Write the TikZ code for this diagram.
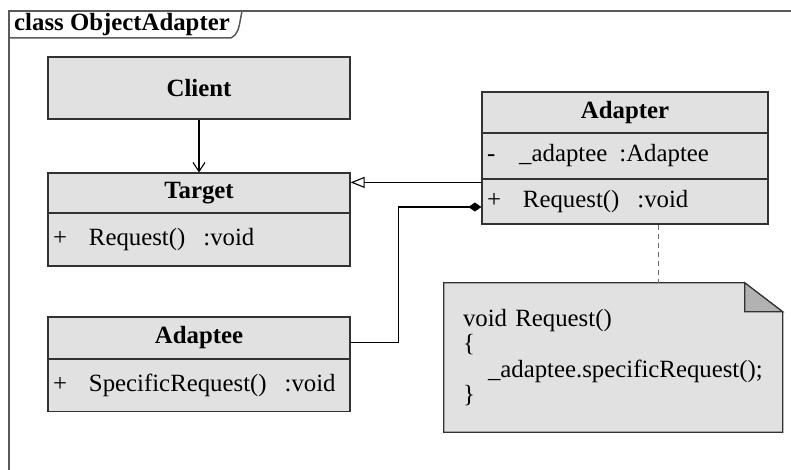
\documentclass[tikz,border=0pt]{standalone}
\usepackage{fontspec}
\setmainfont{Liberation Serif}
\usetikzlibrary{arrows.meta,backgrounds}
\definecolor{boxfill}{RGB}{225,225,225}
\definecolor{boxline}{RGB}{50,50,50}
\definecolor{foldfill}{RGB}{178,178,178}
\definecolor{framecol}{RGB}{90,90,90}
\definecolor{dashcol}{RGB}{110,110,110}
\begin{document}
\begin{tikzpicture}[x=1pt,y=-1pt,
  every node/.style={font=\fontsize{24.8}{24.6}\selectfont, inner sep=0pt},
  box/.style={draw=boxline, fill=boxfill, line width=1.2pt, rectangle},
  head/.style={box, font=\fontsize{24.8}{24.6}\selectfont\bfseries},
  comp/.style={box, inner xsep=5pt, align=left},
  frameline/.style={draw=framecol, line width=1.5pt},
  conn/.style={draw=black, line width=1.1pt},
  dep/.style={conn, -{Straight Barb[length=9pt,width=12pt,line width=1.1pt]}},
  gen/.style={conn, -{Triangle[open,length=14pt,width=11pt,line width=1.1pt,fill=white]}},
  compo/.style={conn, {Diamond[length=13pt,width=9pt]}-},
  notelink/.style={draw=dashcol, line width=1pt, dash pattern=on 5pt off 4pt}
]
\useasboundingbox (0,0) rectangle (791,470);

% frame
\draw[frameline] (791,11) -- (9,11) -- (9,470);
\node[anchor=base west, font=\fontsize{24.8}{24.6}\selectfont\bfseries] (title) at (14,31) {class ObjectAdapter};
\draw[frameline] (9,38) -- (231,38) .. controls (238,33) .. (242,11);

% Client
\node[head, minimum width=302pt, minimum height=62pt] (client) at (199,88) {Client};

% Target
\node[head, minimum width=302pt, minimum height=40pt] (target) at (199,193) {Target};
\node[comp, text width=292pt, minimum height=53pt] (targetops) at (199,239.5) {+\hspace{22pt}Request()\hspace{18pt}:void};

% Adaptee
\node[head, minimum width=302pt, minimum height=42pt] (adaptee) at (199,338) {Adaptee};
\node[comp, text width=292pt, minimum height=52.5pt] (adapteeops) at (199,385.25) {+\hspace{22pt}SpecificRequest()\hspace{18pt}:void};

% Adapter
\node[head, minimum width=286pt, minimum height=41pt] (adapter) at (625,112.5) {Adapter};
\node[comp, text width=276pt, minimum height=46pt] (adapterattr) at (625,156) {-\hspace{24pt}\_adaptee\hspace{12pt}:Adaptee};
\node[comp, text width=276pt, minimum height=45pt] (adapterops) at (625,201.5) {+\hspace{22pt}Request()\hspace{18pt}:void};

% Note
\node[inner xsep=19pt, text width=300.5pt, minimum width=338.5pt, minimum height=149pt, align=left,
      font=\fontsize{24.8}{25.4}\selectfont] (note) at (613.25,357.5)
  {void Request()\\\{\\\hspace*{25pt}\_adaptee.specificRequest();\\\}};
\begin{scope}[on background layer]
\fill[boxfill] (note.north west) -- ([xshift=-38pt]note.north east) -- ([yshift=-29pt]note.north east) -- (note.south east) -- (note.south west) -- cycle;
\end{scope}
\draw[boxline, line width=1.2pt] (note.north west) -- ([xshift=-38pt]note.north east) -- ([yshift=-29pt]note.north east) -- (note.south east) -- (note.south west) -- cycle;
\draw[boxline, line width=1.2pt, fill=foldfill] ([xshift=-38pt]note.north east) -- ([xshift=-38pt,yshift=-29pt]note.north east) -- ([yshift=-29pt]note.north east) -- cycle;

% connectors
\draw[dep] (client.south) -- (target.north);
\draw[gen] ([yshift=-4pt]adapterops.north west) -- ([yshift=-4pt]adapterops.north west -| target.east);
\draw[compo] ([yshift=-5.5pt]adapterops.west) -| ([xshift=48pt,yshift=-4.5pt]adaptee.east) -- ([yshift=-4.5pt]adaptee.east);
\draw[notelink] ([xshift=33pt]adapterops.south) -- ([xshift=33pt]adapterops.south |- note.north);
\end{tikzpicture}
\end{document}
